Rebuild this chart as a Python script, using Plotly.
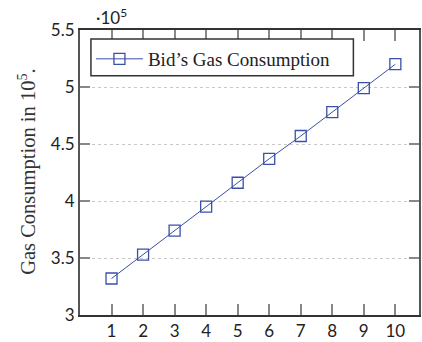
import plotly.graph_objects as go

x_vals = [1, 2, 3, 4, 5, 6, 7, 8, 9, 10]
gas = [3.32e5, 3.53e5, 3.74e5, 3.95e5, 4.16e5, 4.37e5, 4.57e5, 4.78e5, 4.99e5, 5.20e5]
series_name = "Bid’s Gas Consumption"
y_tickvals = [3e5, 3.5e5, 4e5, 4.5e5, 5e5, 5.5e5]
y_ticktext = ["3", "3.5", "4", "4.5", "5", "5.5"]
y_title = "Gas Consumption in 10<sup>5</sup>."

blue = "#3b4fa6"
fig = go.Figure()
fig.add_trace(go.Scatter(
    x=x_vals, y=gas, mode="lines+markers", name=series_name,
    line=dict(color=blue, width=1),
    marker=dict(symbol="square-open", size=11, color=blue, line=dict(width=1.3, color=blue)),
))

W, H = 422, 342
ml, mr, mt, mb = 80, 1, 30, 26
pw, ph = W - ml - mr, H - mt - mb

def px_x(p):
    return (p - ml) / pw

def px_y(p):
    return 1 - (p - mt) / ph

tickfont = dict(family="Lato, sans-serif", size=17, color="#222")
fig.update_layout(
    width=W, height=H,
    margin=dict(l=ml, r=mr, t=mt, b=mb),
    paper_bgcolor="white", plot_bgcolor="white",
    showlegend=True,
    legend=dict(x=px_x(91), y=px_y(40), xanchor="left", yanchor="top",
                bgcolor="rgba(0,0,0,0)", borderwidth=0,
                font=dict(family="Liberation Serif, serif", size=19, color="#222"),
                itemwidth=47, tracegroupgap=0),
    shapes=[dict(type="rect", xref="paper", yref="paper",
                 x0=px_x(91), x1=px_x(355), y0=px_y(76), y1=px_y(39),
                 line=dict(color="#333", width=1.5), fillcolor="white", layer="above")],
    xaxis=dict(range=[0, 10.75], tickvals=x_vals, ticks="inside", ticklen=11,
               tickwidth=2, tickcolor="#888", showgrid=False, zeroline=False,
               showline=True, linecolor="#333", linewidth=1.5, mirror="ticks",
               tickfont=tickfont),
    yaxis=dict(range=[3e5, 5.5e5], tickvals=y_tickvals, ticktext=y_ticktext,
               ticks="inside", ticklen=10, tickwidth=2, tickcolor="#888",
               showgrid=True, gridcolor="#c8c8c8", griddash="dot", gridwidth=1,
               zeroline=False, showline=True, linecolor="#555", linewidth=2,
               mirror="ticks", tickfont=tickfont),
    annotations=[
        dict(text="·10<sup>5</sup>", xref="paper", yref="paper",
             x=0.04, y=1.0, xanchor="left", yanchor="bottom", yshift=0,
             showarrow=False,
             font=dict(family="Lato, sans-serif", size=17, color="#222")),
        dict(text=y_title, xref="paper", yref="paper",
             x=px_x(27), y=px_y(172), xanchor="center", yanchor="middle",
             textangle=-90, showarrow=False,
             font=dict(family="Liberation Serif, serif", size=20.5, color="#333")),
    ],
)

fig.write_html("out.html")
